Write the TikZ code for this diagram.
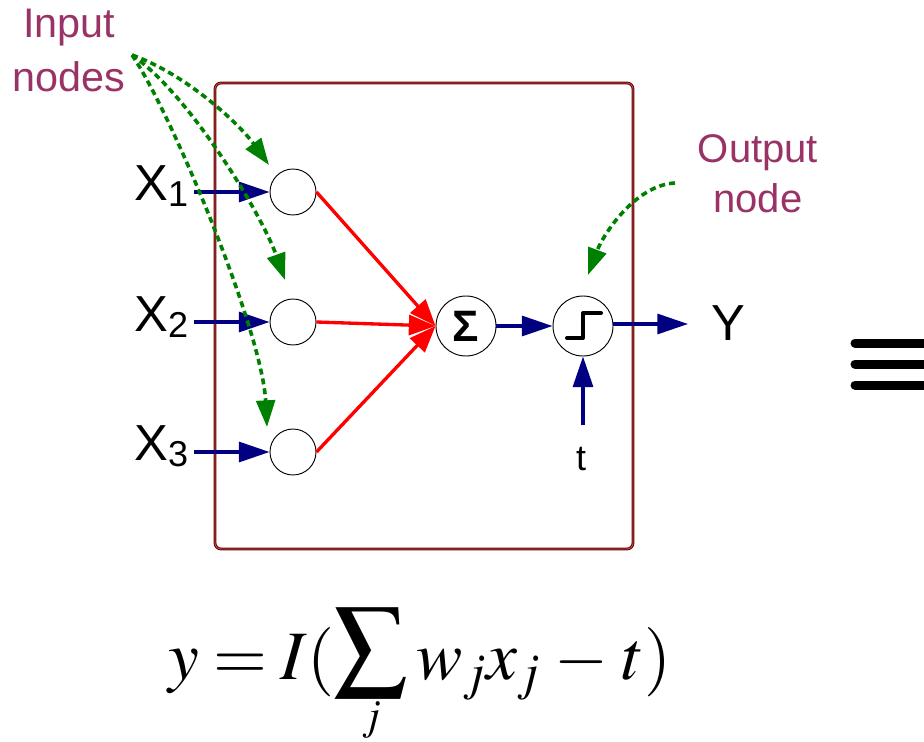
\documentclass[tikz,border=0pt]{standalone}
\usepackage{graphicx}
\usepackage{mathptmx}
\usepackage[no-math]{fontspec}
\setmainfont{Liberation Sans}
\usetikzlibrary{arrows.meta}
\definecolor{boxred}{RGB}{110,0,0}
\definecolor{boxin}{RGB}{185,90,90}
\definecolor{navyb}{RGB}{0,0,128}
\definecolor{labpurple}{RGB}{153,51,102}
\definecolor{dgreen}{RGB}{0,128,0}
\newcommand{\mybigsum}{\mathop{\raisebox{7pt}{$\displaystyle\vcenter{\hbox{\scalebox{1.05}{$\displaystyle\sum$}}}$}}\limits}
\newcommand{\mysumlimit}{\smash{\raisebox{7pt}{\fontsize{32}{32}\selectfont$j$}}}
\begin{document}
\begin{tikzpicture}[x=0.75pt,y=-0.75pt,
  innode/.style={circle,draw=black,line width=0.7pt,minimum size=34.5pt,inner sep=0pt},
  procnode/.style={circle,draw=black,line width=0.7pt,minimum size=45pt,inner sep=0pt},
  bluearrow/.style={draw=navyb,line width=2.4pt,-{Triangle[length=23pt,width=15pt]}},
  redarrow/.style={draw=red,line width=2.5pt,-{Triangle[length=20pt,width=15pt]}},
  greenarrow/.style={draw=dgreen,line width=2.7pt,dash pattern=on 4.5pt off 3pt,-{Triangle[length=20pt,width=14pt]}},
  biglabel/.style={font=\fontsize{38}{40}\selectfont,inner sep=0pt,anchor=base west},
  notelabel/.style={text=labpurple,align=center,inner sep=0pt,anchor=north},
  framebox/.style={draw=boxred,double=boxin,double distance=0.6pt,line width=0.75pt,rounded corners=4.5pt},
  bar/.style={line width=6.75pt,line cap=round},
]
\useasboundingbox (0,0) rectangle (924,742);

% frame
\draw[framebox] (215,83) rectangle (633,549);

% input nodes
\node[innode] (i1) at (293,192) {};
\node[innode] (i2) at (293,322) {};
\node[innode] (i3) at (293,452) {};

% processing nodes
\node[procnode,font=\fontsize{33}{33}\selectfont\bfseries] (sig) at (466,326) {Σ};
\node[procnode] (step) at (583,326) {};
\draw[line width=3pt,line cap=round,line join=round]
  ([shift={(-16,12)}]step.center) -- ([shift={(0,12)}]step.center)
  -- ([shift={(0,-13)}]step.center) -- ([shift={(18,-13)}]step.center);

% labels
\node[biglabel] (x1) at (134,200) {X\raisebox{-5pt}{\fontsize{27}{27}\selectfont 1}};
\node[biglabel] (x2) at (134,331) {X\raisebox{-5pt}{\fontsize{27}{27}\selectfont 2}};
\node[biglabel] (x3) at (134,460) {X\raisebox{-5pt}{\fontsize{27}{27}\selectfont 3}};
\node[biglabel] (ylab) at (711,340) {Y};
\node[font=\fontsize{27}{27}\selectfont,inner sep=0pt,anchor=base] (tlab) at (581,470) {t};

\node[notelabel,font=\fontsize{31}{40.5}\selectfont] (inlab) at (69,9) {Input\\nodes};
\node[notelabel,font=\fontsize{30}{37.5}\selectfont] (outlab) at (758,134) {Output\\node};

% blue arrows
\draw[bluearrow] ([xshift=4.5pt]x1.east |- i1) -- (i1);
\draw[bluearrow] ([xshift=4.5pt]x2.east |- i2) -- (i2);
\draw[bluearrow] ([xshift=4.5pt]x3.east |- i3) -- (i3);
\draw[bluearrow] (sig) -- (step);
\coordinate (yend) at (688,324);
\draw[bluearrow] (step.east |- yend) -- (yend);
\coordinate (tstart) at (583,425);
\draw[bluearrow] (tstart) -- (step);

% red arrows
\draw[redarrow] (i1.east) -- (sig.west);
\draw[redarrow] (i2.east) -- (sig.west);
\draw[redarrow] (i3.east) -- (sig.west);

% green dotted arrows
\coordinate (gsrc) at (132,55);
\coordinate (g1) at (269,165);
\coordinate (g2) at (285,280);
\coordinate (g3) at (267,427);
\draw[greenarrow] (gsrc) .. controls (188,75) and (240,125) .. (g1);
\draw[greenarrow] (gsrc) .. controls (190,95) and (262,215) .. (g2);
\draw[greenarrow] (gsrc) .. controls (170,110) and (262,330) .. (g3);
\coordinate (osrc) at (675,183);
\coordinate (o1) at (588,275);
\draw[greenarrow] (osrc) .. controls (635,185) and (603,235) .. (o1);

% equivalence sign
\begin{scope}
\clip (0,0) rectangle (924,742);
\draw[bar] (855,343) -- (960,343);
\draw[bar] (855,364) -- (960,364);
\draw[bar] (855,385) -- (960,385);
\end{scope}

% formula
\node[font=\fontsize{52}{56}\selectfont,inner sep=0pt,anchor=base] (formula) at (420,679)
  {\thickmuskip=3.5mu\medmuskip=3.5mu$\displaystyle y = I(\mybigsum_{\mysumlimit} w_j x_j - t)$};
\end{tikzpicture}
\end{document}
